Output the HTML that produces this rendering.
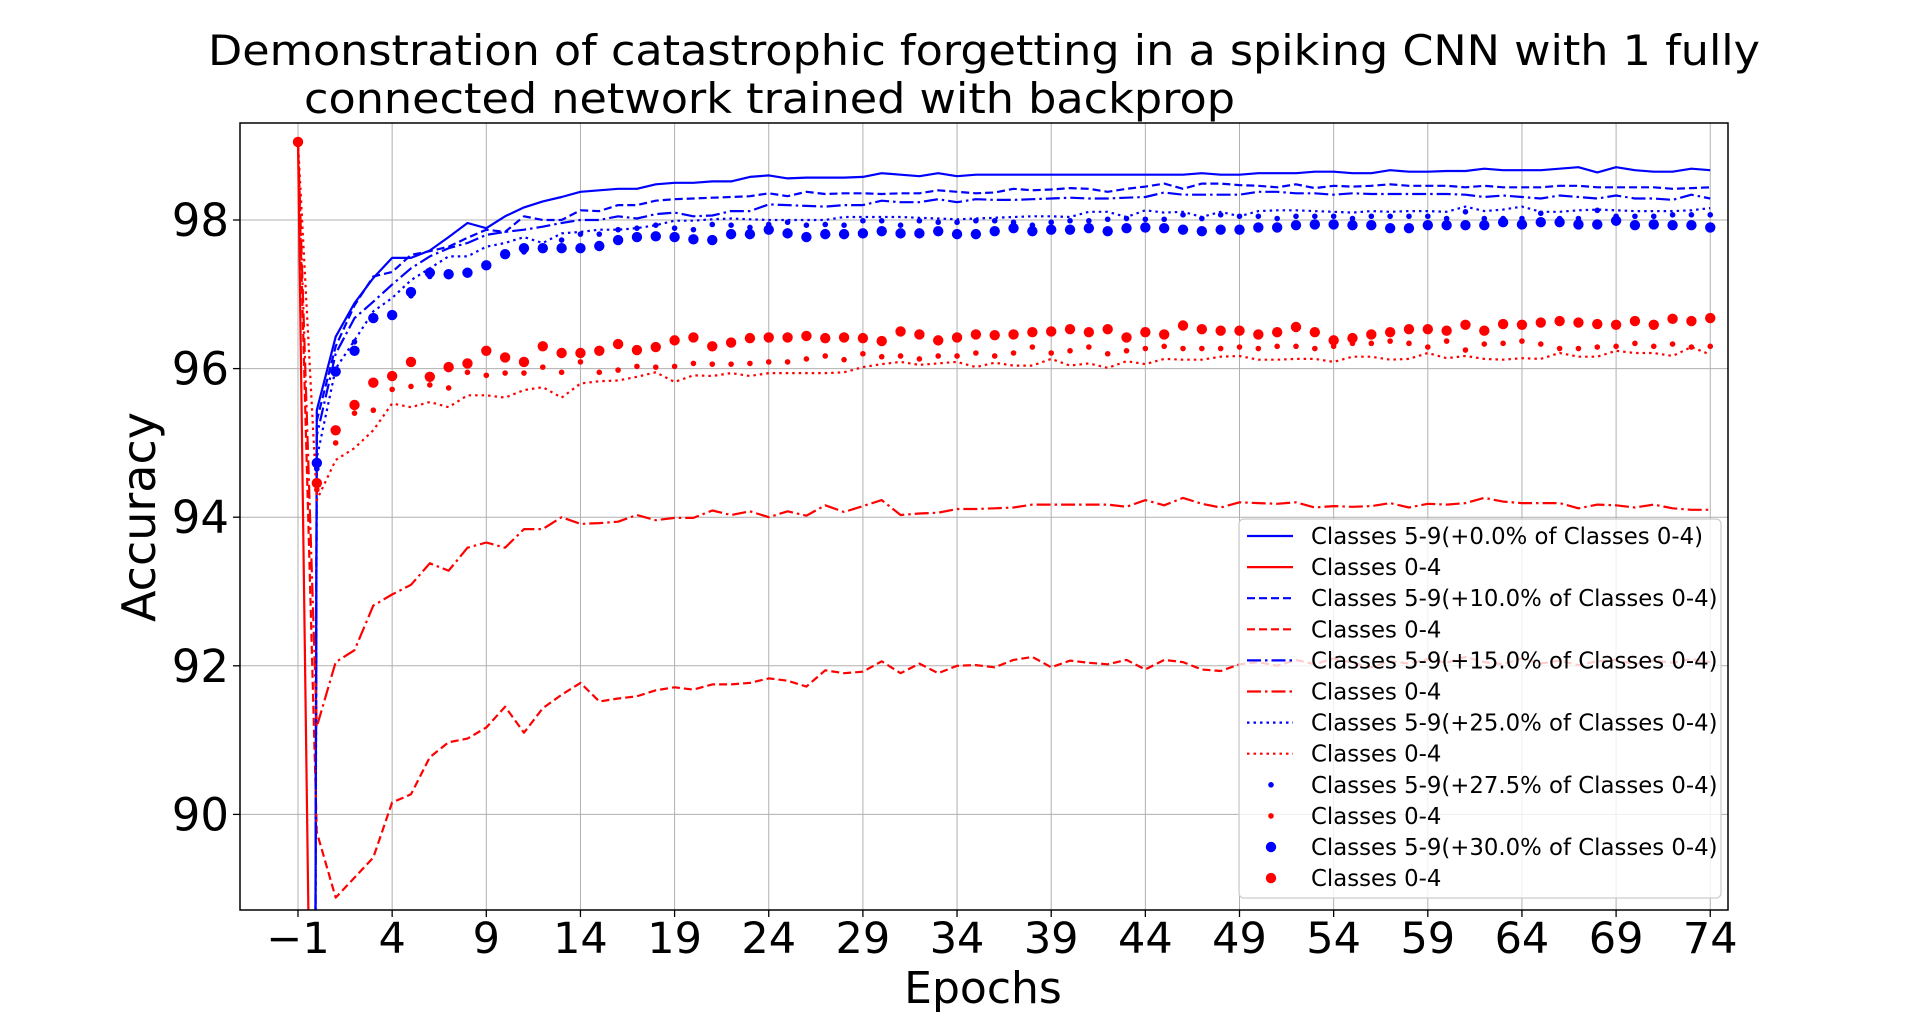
<!DOCTYPE html>
<html><head><meta charset="utf-8">
<style>
html,body{margin:0;padding:0;background:#fff;width:1920px;height:1022px;overflow:hidden;}
svg{display:block;font-family:"DejaVu Sans","Liberation Sans",sans-serif;overflow:hidden;}
</style></head>
<body>
<svg id="chart" width="1920" height="1022" viewBox="0 0 1920 1022" xmlns="http://www.w3.org/2000/svg">
  <rect x="0" y="0" width="1920" height="1022" fill="#fff"/>
  <text x="208" y="65" font-size="42" textLength="1552" lengthAdjust="spacingAndGlyphs">Demonstration of catastrophic forgetting in a spiking CNN with 1 fully</text>
  <text x="304" y="113" font-size="42" textLength="931" lengthAdjust="spacingAndGlyphs">connected network trained with backprop</text>
  <defs><clipPath id="plotclip"><rect x="240" y="123" width="1488" height="787"/></clipPath></defs>
  <g id="grid"></g>
  <g id="series" clip-path="url(#plotclip)"></g>
  <rect x="240" y="123" width="1488" height="787" fill="none" stroke="#000" stroke-width="1.5"/>
  <g id="xticks"></g>
  <g id="yticks"></g>
  <text x="983" y="1003" font-size="44" text-anchor="middle">Epochs</text>
  <text x="0" y="0" font-size="46" text-anchor="middle" transform="translate(155,517) rotate(-90)">Accuracy</text>
  <g id="legend"></g>
</svg>
<script>
const xTicks = [-1,4,9,14,19,24,29,34,39,44,49,54,59,64,69,74];
const yTicks = [90,92,94,96,98];
const blueSolid = [0,
95.44,96.43,96.88,97.22,97.49,97.49,97.59,97.77,97.96,97.89,
98.05,98.17,98.25,98.31,98.38,98.40,98.42,98.42,98.48,98.50,
98.50,98.52,98.52,98.58,98.60,98.56,98.57,98.57,98.57,98.58,
98.63,98.61,98.59,98.63,98.59,98.61,98.61,98.61,98.61,98.61,
98.61,98.61,98.61,98.61,98.61,98.61,98.61,98.63,98.61,98.61,
98.63,98.63,98.63,98.65,98.65,98.63,98.63,98.67,98.65,98.65,
98.66,98.66,98.69,98.67,98.67,98.67,98.69,98.71,98.64,98.71,
98.67,98.65,98.65,98.69,98.67];
const redSolid = [99.05,
80.3,80.1,80.6,80.4,80.9,80.7,81.0,80.8,81.2,81.1,
81.3,81.0,81.4,81.2,81.5,81.3,81.6,81.4,81.5,81.7,
81.6,81.5,81.8,81.7,81.6,81.9,81.7,81.8,81.6,81.9,
81.8,81.7,81.9,81.8,82.0,81.9,81.8,82.0,81.9,81.8,
82.0,81.9,82.1,81.9,82.0,82.1,81.9,82.0,82.1,82.0,
82.1,82.0,82.2,82.1,82.0,82.1,82.2,82.1,82.0,82.2,
82.1,82.2,82.0,82.1,82.2,82.1,82.2,82.3,82.1,82.2,
82.2,82.1,82.3,82.2,82.2];
const blueDashed = [0,
95.30,96.30,96.85,97.24,97.30,97.53,97.58,97.64,97.76,97.87,
97.84,98.05,98.00,98.00,98.13,98.12,98.20,98.20,98.26,98.28,
98.29,98.30,98.31,98.32,98.36,98.32,98.38,98.35,98.36,98.36,
98.35,98.36,98.36,98.40,98.38,98.36,98.37,98.42,98.40,98.41,
98.43,98.42,98.38,98.42,98.45,98.49,98.42,98.49,98.49,98.47,
98.46,98.44,98.48,98.43,98.46,98.45,98.46,98.48,98.46,98.46,
98.46,98.44,98.46,98.44,98.44,98.44,98.46,98.46,98.44,98.44,
98.44,98.44,98.42,98.43,98.44];
const redDashed = [99.05,
89.76,88.88,89.15,89.42,90.16,90.27,90.77,90.97,91.02,91.17,
91.45,91.10,91.43,91.61,91.77,91.52,91.56,91.59,91.67,91.71,
91.68,91.75,91.75,91.77,91.83,91.80,91.72,91.94,91.90,91.92,
92.06,91.90,92.03,91.90,92.00,92.01,91.98,92.08,92.12,91.98,
92.07,92.04,92.02,92.08,91.95,92.08,92.05,91.95,91.93,92.02,
92.05,92.00,92.08,92.02,92.10,92.04,91.98,92.06,92.03,92.09,
92.04,92.12,92.05,92.02,92.10,92.03,92.07,92.01,92.06,92.08,
92.02,92.07,92.04,92.09,92.05];
const blueDashDot = [0,
95.10,96.20,96.68,96.90,97.13,97.35,97.51,97.62,97.69,97.80,
97.84,97.87,97.91,97.96,98.00,98.00,98.05,98.02,98.08,98.10,
98.05,98.06,98.12,98.12,98.21,98.20,98.19,98.18,98.20,98.20,
98.26,98.24,98.24,98.28,98.24,98.28,98.27,98.27,98.28,98.29,
98.30,98.29,98.29,98.30,98.31,98.37,98.34,98.34,98.34,98.34,
98.38,98.38,98.36,98.36,98.34,98.36,98.35,98.35,98.35,98.35,
98.35,98.34,98.31,98.33,98.31,98.29,98.33,98.31,98.29,98.33,
98.29,98.29,98.27,98.34,98.29];
const redDashDot = [99.05,
91.18,92.05,92.21,92.81,92.96,93.09,93.38,93.28,93.59,93.66,
93.59,93.84,93.84,94.00,93.91,93.92,93.94,94.03,93.96,93.99,
93.99,94.09,94.03,94.08,94.00,94.08,94.02,94.16,94.07,94.15,
94.23,94.03,94.05,94.06,94.11,94.11,94.12,94.13,94.17,94.17,
94.17,94.17,94.17,94.14,94.23,94.16,94.26,94.18,94.13,94.20,
94.19,94.18,94.20,94.13,94.15,94.14,94.15,94.19,94.13,94.18,
94.17,94.19,94.26,94.21,94.19,94.19,94.19,94.12,94.17,94.16,
94.13,94.17,94.12,94.10,94.10];
const blueDotted = [0,
94.80,96.00,96.38,96.77,96.95,97.19,97.35,97.51,97.51,97.64,
97.69,97.77,97.69,97.82,97.84,97.87,97.87,97.89,97.93,97.99,
97.99,98.01,98.02,98.01,98.00,98.00,98.00,98.00,98.04,98.04,
98.04,98.04,98.03,98.02,98.01,98.02,98.03,98.04,98.05,98.05,
98.04,98.11,98.11,98.04,98.13,98.10,98.11,98.04,98.11,98.05,
98.12,98.13,98.13,98.12,98.11,98.10,98.12,98.11,98.12,98.12,
98.11,98.18,98.12,98.14,98.18,98.11,98.11,98.13,98.14,98.13,
98.12,98.12,98.12,98.13,98.16];
const redDotted = [99.05,
94.23,94.77,94.93,95.17,95.53,95.48,95.55,95.48,95.64,95.64,
95.61,95.71,95.75,95.61,95.80,95.83,95.84,95.89,95.95,95.82,
95.91,95.90,95.94,95.90,95.94,95.94,95.94,95.94,95.95,96.02,
96.06,96.09,96.05,96.07,96.09,96.02,96.08,96.04,96.04,96.13,
96.04,96.07,96.01,96.10,96.06,96.13,96.12,96.12,96.16,96.17,
96.12,96.12,96.13,96.13,96.09,96.16,96.16,96.12,96.13,96.21,
96.14,96.17,96.13,96.12,96.14,96.13,96.21,96.16,96.16,96.24,
96.21,96.21,96.17,96.29,96.19];
const blueSmall = [0,
94.65,95.95,96.36,96.70,96.75,96.98,97.24,97.28,97.30,97.40,
97.55,97.57,97.62,97.73,97.81,97.81,97.87,97.89,97.93,97.89,
97.87,97.94,97.93,97.90,97.94,97.97,97.93,97.94,97.93,97.99,
97.99,97.93,97.99,97.97,97.97,97.99,97.99,97.97,97.93,97.97,
97.99,97.99,98.01,98.02,98.01,98.01,98.07,98.02,98.07,98.05,
98.05,98.02,98.05,98.05,98.05,98.02,98.05,98.05,98.05,98.05,
98.02,98.11,98.02,98.02,98.02,98.09,98.02,98.02,98.13,98.05,
98.05,98.05,98.07,98.07,98.07];
const redSmall = [99.05,
94.37,95.00,95.40,95.44,95.72,95.76,95.78,95.74,95.95,95.91,
95.94,95.94,96.02,95.95,96.09,95.95,95.98,96.03,96.02,96.03,
96.07,96.06,96.06,96.07,96.09,96.09,96.13,96.17,96.12,96.20,
96.16,96.17,96.13,96.17,96.17,96.21,96.17,96.21,96.29,96.21,
96.24,96.29,96.20,96.24,96.27,96.30,96.27,96.27,96.27,96.29,
96.27,96.30,96.30,96.27,96.30,96.34,96.34,96.37,96.34,96.29,
96.37,96.25,96.33,96.34,96.37,96.33,96.27,96.27,96.29,96.30,
96.34,96.30,96.33,96.29,96.30];
const blueBig = [0,
94.73,95.96,96.24,96.68,96.72,97.03,97.29,97.27,97.29,97.39,
97.54,97.62,97.62,97.62,97.62,97.65,97.73,97.77,97.78,97.77,
97.74,97.73,97.81,97.81,97.87,97.82,97.77,97.81,97.81,97.82,
97.85,97.82,97.82,97.85,97.81,97.81,97.85,97.89,97.85,97.87,
97.87,97.89,97.85,97.89,97.90,97.89,97.87,97.85,97.87,97.87,
97.90,97.90,97.93,97.94,97.94,97.93,97.93,97.89,97.89,97.93,
97.93,97.93,97.93,97.97,97.94,97.97,97.97,97.94,97.94,97.99,
97.93,97.94,97.93,97.93,97.90];
const redBig = [99.05,
94.46,95.17,95.51,95.81,95.90,96.09,95.89,96.02,96.07,96.24,
96.15,96.09,96.30,96.21,96.21,96.24,96.33,96.25,96.29,96.38,
96.42,96.30,96.35,96.41,96.42,96.42,96.44,96.41,96.42,96.41,
96.37,96.50,96.46,96.38,96.42,96.46,96.45,96.46,96.49,96.50,
96.53,96.49,96.53,96.42,96.49,96.46,96.58,96.53,96.51,96.51,
96.46,96.49,96.56,96.49,96.38,96.41,96.46,96.49,96.53,96.53,
96.51,96.59,96.51,96.60,96.59,96.62,96.64,96.62,96.60,96.59,
96.64,96.59,96.67,96.64,96.68];
const legendLabels = ["Classes 5-9(+0.0% of Classes 0-4)","Classes 0-4","Classes 5-9(+10.0% of Classes 0-4)","Classes 0-4","Classes 5-9(+15.0% of Classes 0-4)","Classes 0-4","Classes 5-9(+25.0% of Classes 0-4)","Classes 0-4","Classes 5-9(+27.5% of Classes 0-4)","Classes 0-4","Classes 5-9(+30.0% of Classes 0-4)","Classes 0-4"];

const NS = "http://www.w3.org/2000/svg";
const L = 240, R = 1728, T = 123, B = 910;
function xs(e){ return 298 + (e + 1) * 18.83; }
function ys(v){ return 220 - (v - 98) * 74.3; }
function mk(tag, attrs, parent){ const el = document.createElementNS(NS, tag); for (const k in attrs) el.setAttribute(k, attrs[k]); parent.appendChild(el); return el; }

const grid = document.getElementById('grid');
const xt = document.getElementById('xticks');
const yt = document.getElementById('yticks');
xTicks.forEach(t => {
  const x = xs(t);
  const g = mk('line', {x1:x, x2:x, y1:T, y2:B, stroke:'#b0b0b0', 'stroke-width':1}, grid);
  
  
  const tk = mk('line', {x1:x, x2:x, y1:B, y2:B+7, stroke:'#000', 'stroke-width':1.3}, xt);
  
  
  const tx = mk('text', {x:x, y:953, 'font-size':43, 'text-anchor':'middle'}, xt);
  tx.textContent = t < 0 ? '\u2212' + Math.abs(t) : String(t);
  
  
});
yTicks.forEach(t => {
  const y = ys(t);
  const g = mk('line', {x1:L, x2:R, y1:y, y2:y, stroke:'#b0b0b0', 'stroke-width':1}, grid);
  
  
  const tk = mk('line', {x1:L-7, x2:L, y1:y, y2:y, stroke:'#000', 'stroke-width':1.3}, yt);
  
  
  const tx = mk('text', {x:229, y:y+16, 'font-size':45, 'text-anchor':'end'}, yt);
  tx.textContent = String(t);
  
  
});

const series = document.getElementById('series');
const DASH = {solid:'', dashed:'8,4', dashdot:'14,4,2.5,4', dotted:'2.5,4'};
function drawLine(vals, color, style, name){
  const pts = vals.map((v,i) => xs(i-1).toFixed(1) + ',' + ys(v).toFixed(1)).join(' ');
  const p = mk('polyline', {points:pts, fill:'none', stroke:color, 'stroke-width':2.2, 'stroke-linejoin':'round'}, series);
  if (DASH[style]) p.setAttribute('stroke-dasharray', DASH[style]);
  
  
}
function drawDots(vals, color, r, name){
  vals.forEach((v,i) => {
    const c = mk('circle', {cx:xs(i-1), cy:ys(v), r:r, fill:color}, series);
    
    
  });
}
drawLine(blueSolid, '#0000ff', 'solid', 'line-classes-5-9-0pct');
drawLine(redSolid, '#ff0000', 'solid', 'line-classes-0-4-0pct');
drawLine(blueDashed, '#0000ff', 'dashed', 'line-classes-5-9-10pct');
drawLine(redDashed, '#ff0000', 'dashed', 'line-classes-0-4-10pct');
drawLine(blueDashDot, '#0000ff', 'dashdot', 'line-classes-5-9-15pct');
drawLine(redDashDot, '#ff0000', 'dashdot', 'line-classes-0-4-15pct');
drawLine(blueDotted, '#0000ff', 'dotted', 'line-classes-5-9-25pct');
drawLine(redDotted, '#ff0000', 'dotted', 'line-classes-0-4-25pct');
drawDots(blueSmall, '#0000ff', 2.8, 'point-classes-5-9-27pct');
drawDots(redSmall, '#ff0000', 2.8, 'point-classes-0-4-27pct');
drawDots(blueBig, '#0000ff', 5.2, 'point-classes-5-9-30pct');
drawDots(redBig, '#ff0000', 5.2, 'point-classes-0-4-30pct');

const lg = document.getElementById('legend');
const box = mk('rect', {x:1239, y:519, width:482, height:379, rx:5, fill:'#fff', 'fill-opacity':0.8, stroke:'#cccccc', 'stroke-width':1.2}, lg);


const styles = ['solid','solid','dashed','dashed','dashdot','dashdot','dotted','dotted','small','small','big','big'];
legendLabels.forEach((lab, i) => {
  const y = 536 + i * 31.1;
  const color = i % 2 === 0 ? '#0000ff' : '#ff0000';
  const st = styles[i];
  let h;
  if (st === 'small' || st === 'big') {
    h = mk('circle', {cx:1271, cy:y, r: st === 'big' ? 5.2 : 2.8, fill:color}, lg);
  } else {
    h = mk('line', {x1:1247, x2:1293, y1:y, y2:y, stroke:color, 'stroke-width':2.2}, lg);
    if (DASH[st]) h.setAttribute('stroke-dasharray', DASH[st]);
  }
  
  
  const t = mk('text', {x:1311, y:y+8, 'font-size':22.8}, lg);
  t.textContent = lab;
  
  
});
</script>
</body></html>
